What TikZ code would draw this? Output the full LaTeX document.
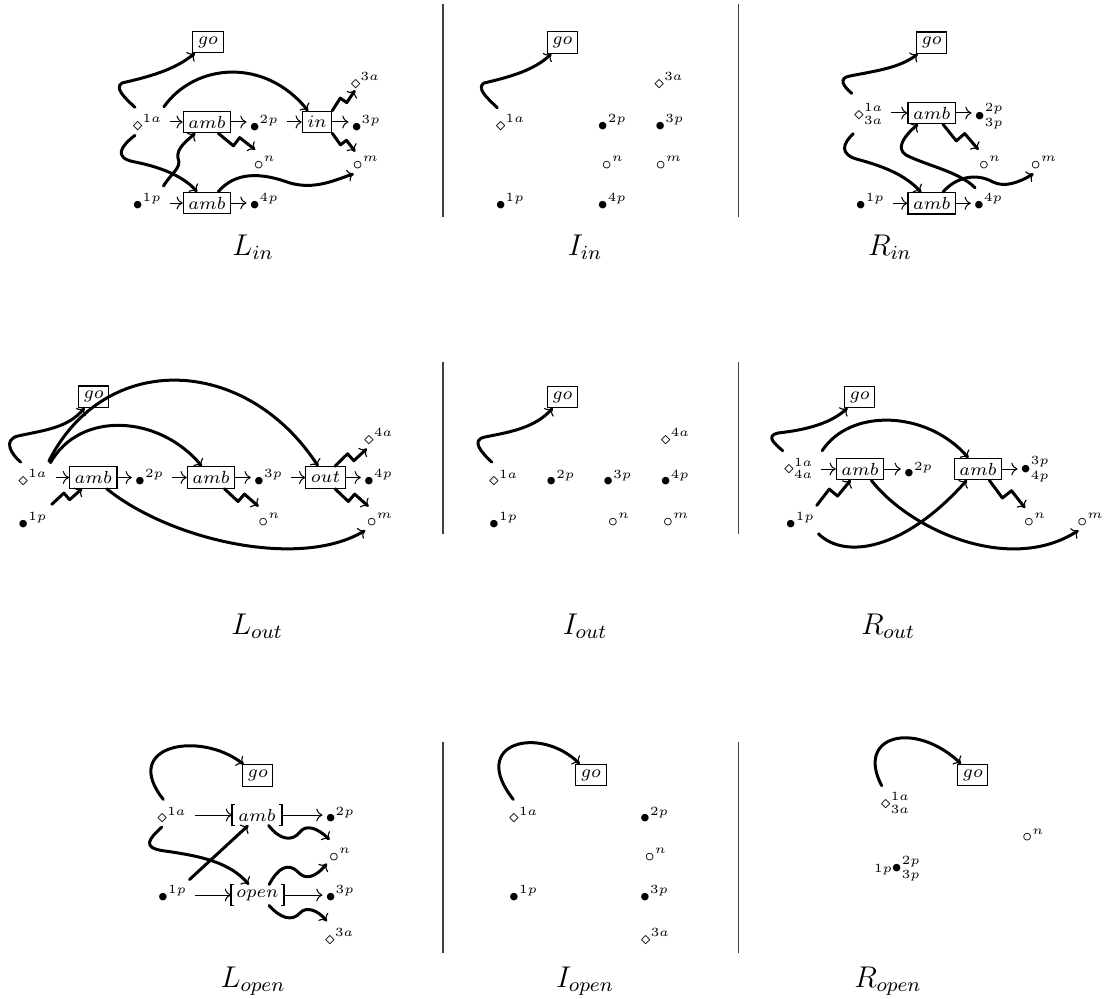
\documentclass[tikz,border=0pt]{standalone}
\usetikzlibrary{calc,arrows.meta}
\tikzset{
  x=0.4pt, y=-0.4pt,
  pn/.style={inner sep=1pt, font=\scriptsize},
  bx/.style={draw, line width=0.45pt, inner xsep=2pt, inner ysep=0pt, minimum height=8.6pt, font=\scriptsize},
  bk/.style={inner xsep=2pt, inner ysep=0pt, minimum height=8pt, minimum width=19.6pt, font=\scriptsize},
  ar/.style={->, line width=0.4pt},
  arp/.style={->, line width=0.4pt, shorten <=2pt},
  thk/.style={line width=1.2pt, line cap=round, line join=round, -{Computer Modern Rightarrow[line width=0.45pt, length=2.4pt, width=5pt]}},
  sepline/.style={line width=0.6pt, black!75},
  ttl/.style={font=\large},
  brk/.style={line width=0.45pt}
}
\newcommand\ptnode[4]{\node[pn,anchor=base west] (#1) at ({#2-7.5},{#3+4.4}) {$#4$};}
\newcommand\zigA[2]{\draw[thk] (#1) -- ($(#1)!0.47!(#2)!0.25!-90:(#2)$) -- ($(#1)!0.53!(#2)!0.25!90:(#2)$) -- (#2);}
\newcommand\zigB[2]{\draw[thk] (#1) -- ($(#1)!0.47!(#2)!0.25!90:(#2)$) -- ($(#1)!0.53!(#2)!0.25!-90:(#2)$) -- (#2);}
\begin{document}
\begin{tikzpicture}
\useasboundingbox (0,0) rectangle (1113,999);
% separators
\draw[sepline] (443,4) -- (443,217);
\draw[sepline] (738.5,4) -- (738.5,217);
\draw[sepline] (443,362) -- (443,534);
\draw[sepline] (738.5,362) -- (738.5,534);
\draw[sepline] (443,742) -- (443,953);
\draw[sepline] (738.5,742) -- (738.5,953);
% titles
\node[ttl] (tLin) at (253,247) {$L_{in}$};
\node[ttl] (tIin) at (585,247) {$I_{in}$};
\node[ttl] (tRin) at (890,247) {$R_{in}$};
\node[ttl] (tLout) at (257,626) {$L_{out}$};
\node[ttl] (tIout) at (585,626) {$I_{out}$};
\node[ttl] (tRout) at (888,626) {$R_{out}$};
\node[ttl] (tLopen) at (253,981) {$L_{open}$};
\node[ttl] (tIopen) at (585,981) {$I_{open}$};
\node[ttl] (tRopen) at (888,981) {$R_{open}$};

% ===== L_in =====
\node[bx] (Ago) at (208,42) {$go$};
\node[bx] (Aamb) at (207,122) {$amb$};
\node[bx] (Ain) at (317,122) {$in$};
\node[bx] (Aamb2) at (207,203) {$amb$};
\ptnode{Aa1}{137}{126}{\diamond^{1a}}
\ptnode{Ap2}{254}{127}{\bullet^{2p}}
\ptnode{Ap3}{356}{127}{\bullet^{3p}}
\ptnode{Aa3}{355}{84}{\diamond^{3a}}
\ptnode{An}{258}{165}{\circ^{n}}
\ptnode{Am}{357}{165}{\circ^{m}}
\ptnode{Ap1}{137}{205}{\bullet^{1p}}
\ptnode{Ap4}{254}{205}{\bullet^{4p}}
\draw[arp] (Aa1.east |- Aamb.west) -- (Aamb.west);
\draw[ar] (Aamb.east) -- (Aamb.east -| Ap2.west);
\draw[arp] (Ap2.east |- Ain.west) -- (Ain.west);
\draw[ar] (Ain.east) -- (Ain.east -| Ap3.west);
\draw[arp] (Ap1.east |- Aamb2.west) -- (Aamb2.west);
\draw[ar] (Aamb2.east) -- (Aamb2.east -| Ap4.west);
\draw[thk] ($(Aa1.north west)+(5.5,-4.4)$) .. controls (125,98) and (114,88) .. (122,83) .. controls (148,77) and (175,70) .. (Ago);
\draw[thk] ($(Aa1.north east)+(-1.3,-5)$) .. controls (195,63) and (265,57) .. (Ain);
\draw[thk] ($(Aa1.south west)+(5.5,2)$) .. controls (122,145) and (112,158) .. (135,162) .. controls (165,168) and (185,178) .. (Aamb2);
\draw[thk] ($(Ap1.north east)+(-1.3,-4.7)$) .. controls (172,172) and (182,168) .. (178,158) .. controls (176,148) and (188,140) .. (Aamb);
\coordinate (Anz) at ($(An.north west)+(4.5,-3.9)$);
\zigA{Aamb.-45}{Anz}
\coordinate (Aa3z) at ($(Aa3.south west)+(7.5,-1)$);
\zigB{Ain.north east}{Aa3z}
\coordinate (Amz) at ($(Am.north west)+(5.5,-2)$);
\zigA{Ain.south east}{Amz}
\draw[thk] (Aamb2.45) .. controls (235,172) and (260,172) .. (290,183) .. controls (315,190) and (335,180) .. ($(Am.south west)+(4,1.5)$);

% ===== I_in =====
\node[bx] (Bgo) at (562.5,42.5) {$go$};
\ptnode{Ba1}{500}{126}{\diamond^{1a}}
\ptnode{Bp2}{602}{126}{\bullet^{2p}}
\ptnode{Bp3}{659.5}{126}{\bullet^{3p}}
\ptnode{Ba3}{658.5}{84}{\diamond^{3a}}
\ptnode{Bn}{606}{165}{\circ^{n}}
\ptnode{Bm}{660}{165}{\circ^{m}}
\ptnode{Bp1}{500}{205}{\bullet^{1p}}
\ptnode{Bp4}{602}{205}{\bullet^{4p}}
\draw[thk] ($(Ba1.north west)+(4.8,-4.1)$) .. controls (487,98) and (476,88) .. (484,83) .. controls (510,77) and (535,70) .. (Bgo);

% ===== R_in =====
\node[bx] (Cgo) at (931.7,42.8) {$go$};
\node[bx] (Camb) at (931.7,113) {$amb$};
\node[bx] (Camb2) at (931.7,203.3) {$amb$};
\ptnode{Ca1}{858.3}{115}{\diamond^{1a}_{3a}}
\ptnode{Cp2}{979}{115.7}{\bullet^{2p}_{3p}}
\ptnode{Cn}{983.3}{165}{\circ^{n}}
\ptnode{Cm}{1035}{165}{\circ^{m}}
\ptnode{Cp1}{860}{205}{\bullet^{1p}}
\ptnode{Cp4}{978.3}{205}{\bullet^{4p}}
\draw[arp] (Ca1.east |- Camb.west) -- (Camb.west);
\draw[ar] (Camb.east) -- (Camb.east -| Cp2.west);
\draw[arp] (Cp1.east |- Camb2.west) -- (Camb2.west);
\draw[ar] (Camb2.east) -- (Camb2.east -| Cp4.west);
\draw[thk] ($(Ca1.north west)+(1,-7.4)$) .. controls (843,86) and (838,78) .. (850,76) .. controls (875,71) and (900,68) .. (Cgo);
\draw[thk] ($(Ca1.south west)+(2.5,6.4)$) .. controls (843,143) and (838,155) .. (860,160) .. controls (885,167) and (905,175) .. (Camb2);
\draw[thk] ($(Cp4.north west)+(4.2,-3)$) .. controls (960,172) and (925,165) .. (906,155) .. controls (895,148) and (905,135) .. (Camb);
\coordinate (Cnz) at ($(Cn.north west)+(2.5,-3.9)$);
\zigA{Camb.-45}{Cnz}
\draw[thk] (Camb2.45) .. controls (955,178) and (975,172) .. (993,182) .. controls (1005,188) and (1020,182) .. ($(Cm.south west)+(5.8,1.4)$);

% ===== L_out =====
\node[bx] (Dgo) at (93.7,396.7) {$go$};
\node[bx] (Damb1) at (93.3,477.5) {$amb$};
\node[bx] (Damb2) at (211,477.5) {$amb$};
\node[bx] (Dout) at (325.5,477.5) {$out$};
\ptnode{Da1}{22.7}{481}{\diamond^{1a}}
\ptnode{Dp2}{139.3}{481}{\bullet^{2p}}
\ptnode{Dp3}{258.3}{481}{\bullet^{3p}}
\ptnode{Dp4}{368.3}{481}{\bullet^{4p}}
\ptnode{Da4}{368.3}{440}{\diamond^{4a}}
\ptnode{Dn}{262.7}{521.7}{\circ^{n}}
\ptnode{Dm}{371}{521.7}{\circ^{m}}
\ptnode{Dp1}{22.7}{524}{\bullet^{1p}}
\draw[arp] (Da1.east |- Damb1.west) -- (Damb1.west);
\draw[ar] (Damb1.east) -- (Damb1.east -| Dp2.west);
\draw[arp] (Dp2.east |- Damb2.west) -- (Damb2.west);
\draw[ar] (Damb2.east) -- (Damb2.east -| Dp3.west);
\draw[arp] (Dp3.east |- Dout.west) -- (Dout.west);
\draw[ar] (Dout.east) -- (Dout.east -| Dp4.west);
\draw[thk] ($(Da1.north west)+(5.5,-4.7)$) .. controls (12,455) and (2,440) .. (18,436) .. controls (45,430) and (68,428) .. (Dgo);
\draw[thk] ($(Da1.north east)+(-2,-5.7)$) .. controls (105,350) and (246,355) .. (Dout);
\draw[thk] ($(Da1.north east)+(-0.4,-4.1)$) .. controls (80,410) and (160,415) .. (Damb2);
\coordinate (Dp1z) at ($(Dp1.north east)+(1.3,-5.4)$);
\zigB{Dp1z}{Damb1.-135}
\draw[thk] (Damb1.-40) .. controls (170,540) and (300,570) .. ($(Dm.south west)+(1.5,1.4)$);
\coordinate (Dnz) at ($(Dn.north west)+(3.1,-3.9)$);
\zigA{Damb2.-40}{Dnz}
\coordinate (Da4z) at ($(Da4.south west)+(5.9,1.4)$);
\zigB{Dout.50}{Da4z}
\coordinate (Dmz) at ($(Dm.north west)+(4.8,-3.9)$);
\zigA{Dout.-50}{Dmz}

% ===== I_out =====
\node[bx] (Ego) at (562.5,397) {$go$};
\ptnode{Ea4}{665}{440}{\diamond^{4a}}
\ptnode{Ea1}{493.3}{481.5}{\diamond^{1a}}
\ptnode{Ep2}{550.7}{481.5}{\bullet^{2p}}
\ptnode{Ep3}{607.7}{481.5}{\bullet^{3p}}
\ptnode{Ep4}{665}{481.5}{\bullet^{4p}}
\ptnode{Ep1}{493.3}{524}{\bullet^{1p}}
\ptnode{En}{612.3}{521.7}{\circ^{n}}
\ptnode{Em}{667.3}{521.7}{\circ^{m}}
\draw[thk] ($(Ea1.north west)+(5.9,-5.2)$) .. controls (482,453) and (470,440) .. (485,437) .. controls (510,432) and (535,428) .. (Ego);

% ===== R_out =====
\node[bx] (Fgo) at (859.7,397) {$go$};
\node[bx] (Famb1) at (860,469) {$amb$};
\node[bx] (Famb2) at (978,469) {$amb$};
\ptnode{Fa1}{788.3}{469.3}{\diamond^{1a}_{4a}}
\ptnode{Fp2}{908.3}{473.3}{\bullet^{2p}}
\ptnode{Fp3}{1025}{469}{\bullet^{3p}_{4p}}
\ptnode{Fp1}{790}{524}{\bullet^{1p}}
\ptnode{Fn}{1028.3}{521.7}{\circ^{n}}
\ptnode{Fm}{1081.7}{521.7}{\circ^{m}}
\draw[arp] (Fa1.east |- Famb1.west) -- (Famb1.west);
\draw[ar] (Famb1.east) -- (Famb1.east -| Fp2.west);
\draw[ar] (Famb2.east) -- (Famb2.east -| Fp3.west);
\draw[thk] ($(Fa1.north west)+(1.9,-4.4)$) .. controls (775,444) and (765,436) .. (778,433) .. controls (805,430) and (830,424) .. (Fgo);
\draw[thk] ($(Fa1.north east)+(5.7,-4.4)$) .. controls (850,408) and (927,410) .. (Famb2);
\coordinate (Fp1z) at ($(Fp1.north east)+(-1,-4.4)$);
\zigB{Fp1z}{Famb1.-130}
\draw[thk] ($(Fp1.south east)+(0.7,2.4)$) .. controls (845,560) and (905,550) .. (Famb2.-135);
\draw[thk] (Famb1.-45) .. controls (910,530) and (1010,575) .. ($(Fm.south west)+(4.1,1.4)$);
\coordinate (Fnz) at ($(Fn.north west)+(4.2,-2.3)$);
\zigA{Famb2.-45}{Fnz}

% ===== L_open =====
\node[bx] (Ggo) at (257.8,775.5) {$go$};
\node[bk] (Gamb) at (257,815) {$amb$};
\node[bk, minimum width=20.6pt] (Gopen) at (257.5,895) {$open$};
\draw[brk] ([xshift=1.2pt]Gamb.north west) -- (Gamb.north west) -- (Gamb.south west) -- ([xshift=1.2pt]Gamb.south west);
\draw[brk] ([xshift=-1.2pt]Gamb.north east) -- (Gamb.north east) -- (Gamb.south east) -- ([xshift=-1.2pt]Gamb.south east);
\draw[brk] ([xshift=1.2pt]Gopen.north west) -- (Gopen.north west) -- (Gopen.south west) -- ([xshift=1.2pt]Gopen.south west);
\draw[brk] ([xshift=-1.2pt]Gopen.north east) -- (Gopen.north east) -- (Gopen.south east) -- ([xshift=-1.2pt]Gopen.south east);
\ptnode{Ga1}{161.7}{818.3}{\diamond^{1a}}
\ptnode{Gp2}{330}{818.3}{\bullet^{2p}}
\ptnode{Gn}{333.3}{856.7}{\circ^{n}}
\ptnode{Gp1}{162.3}{896.7}{\bullet^{1p}}
\ptnode{Gp3}{330}{896.7}{\bullet^{3p}}
\ptnode{Ga3}{329.3}{940}{\diamond^{3a}}
\draw[arp] (Ga1.east |- Gamb.west) -- (Gamb.west);
\draw[ar] (Gamb.east) -- (Gamb.east -| Gp2.west);
\draw[arp] (Gp1.east |- Gopen.west) -- (Gopen.west);
\draw[ar] (Gopen.east) -- (Gopen.east -| Gp3.west);
\draw[thk] ($(Ga1.north west)+(9.1,-4.7)$) .. controls (120,745) and (200,730) .. (Ggo);
\draw[thk] ($(Ga1.south west)+(7.5,1.5)$) .. controls (150,838) and (140,848) .. (165,851) .. controls (200,856) and (230,862) .. (Gopen);
\draw[thk] ($(Gp1.north east)+(-0.5,-3)$) -- (Gamb.-130);
\draw[thk] (Gamb.-42) .. controls (280,840) and (292,842) .. (300,832) .. controls (306,824) and (318,828) .. ($(Gn.north west)+(3.5,-5.6)$);
\draw[thk] (Gopen.42) .. controls (278,868) and (288,862) .. (298,872) .. controls (305,880) and (315,878) .. ($(Gn.south west)+(0.9,-0.3)$);
\draw[thk] (Gopen.-42) .. controls (280,918) and (292,922) .. (300,913) .. controls (306,906) and (318,910) .. ($(Ga3.north west)+(4.9,-4.7)$);

% ===== I_open =====
\node[bx] (Hgo) at (591,775) {$go$};
\ptnode{Ha1}{513.3}{818.3}{\diamond^{1a}}
\ptnode{Hp2}{644.3}{818.3}{\bullet^{2p}}
\ptnode{Hn}{649}{856.7}{\circ^{n}}
\ptnode{Hp1}{513.3}{896.7}{\bullet^{1p}}
\ptnode{Hp3}{644.3}{896.7}{\bullet^{3p}}
\ptnode{Ha3}{645}{940}{\diamond^{3a}}
\draw[thk] ($(Ha1.north west)+(7.5,-4.7)$) .. controls (468,742) and (540,725) .. (Hgo);

% ===== R_open =====
\node[bx] (Kgo) at (972.8,775) {$go$};
\ptnode{Ka1}{885}{804}{\diamond^{1a}_{3a}}
\ptnode{Kn}{1026.7}{837.3}{\circ^{n}}
\ptnode{Kp}{896}{868.3}{\bullet^{2p}_{3p}}
\node[pn,anchor=base east,inner sep=0pt] (Kq) at ([xshift=1.5pt]Kp.base west) {$\scriptscriptstyle 1p$};
\draw[thk] ($(Ka1.north west)+(4.2,-4.1)$) .. controls (855,735) and (915,720) .. (Kgo);
\end{tikzpicture}
\end{document}
